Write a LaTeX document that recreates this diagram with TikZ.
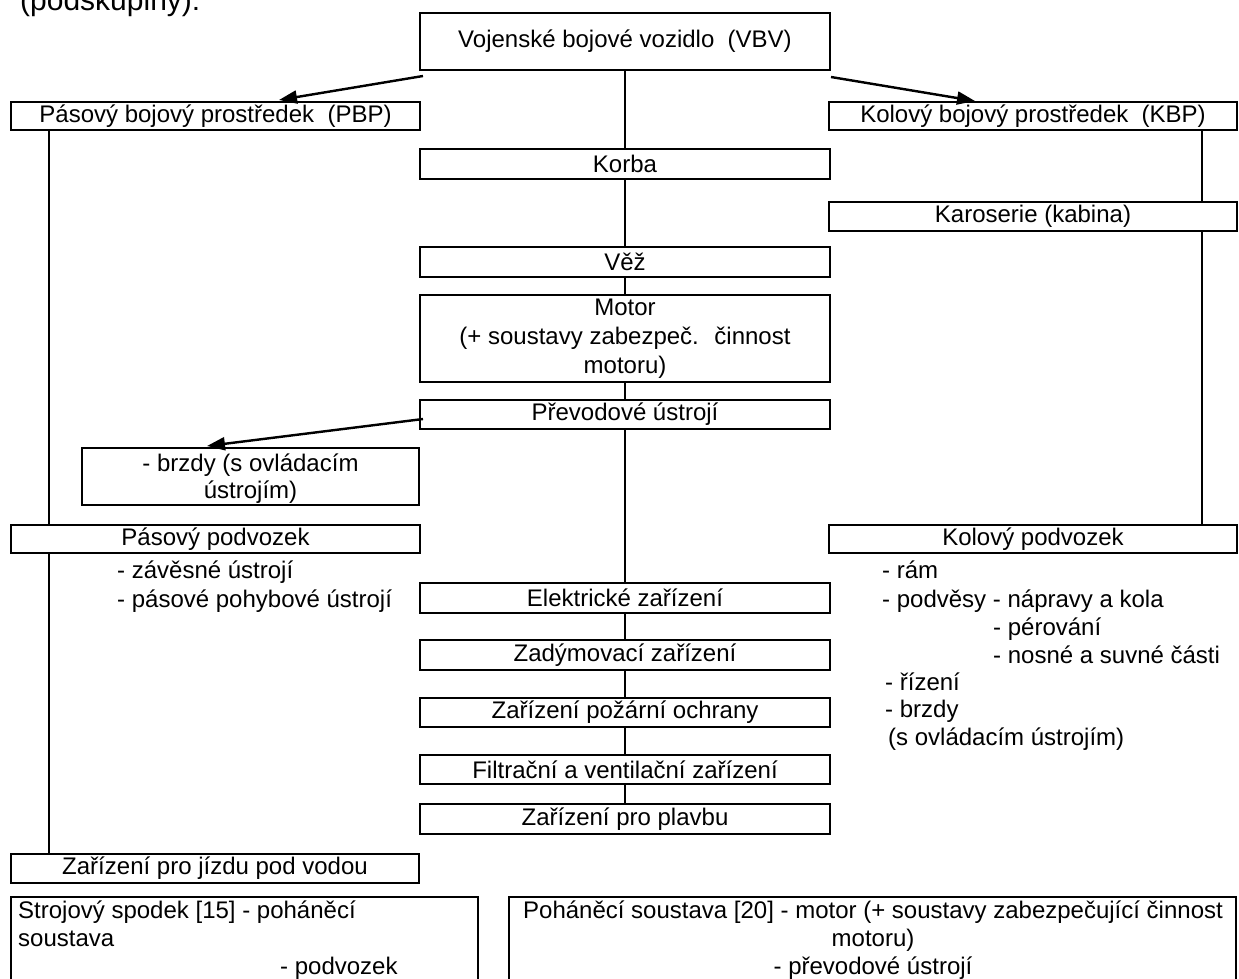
\documentclass[tikz,border=0pt]{standalone}
\usepackage{fontspec}
\setmainfont{Liberation Sans}
\usetikzlibrary{arrows.meta,calc}
\newcommand\diagfont{\fontsize{24}{29.5}\selectfont}
\begin{document}
\begin{tikzpicture}[x=1pt,y=-1pt,
  box/.style={draw, line width=1.8pt, fill=white, inner sep=0pt, align=center, font=\diagfont},
  txt/.style={inner sep=0pt, font=\diagfont},
  ln/.style={line width=1.8pt},
  arr/.style={line width=2.4pt, -{Triangle[length=18pt,width=13pt]}}]
\useasboundingbox (0,0) rectangle (1239,978);
\fill[white] (0,0) rectangle (1239,978);
% title (partly cut)
\node[txt, anchor=base west, font=\fontsize{30}{36}\selectfont] (title) at (20,10) {(podskupiny):};
% centre column
\node[box, minimum width=410pt, minimum height=57pt] (vbv) at (625,41.5) {Vojenské bojové vozidlo~ (VBV)};
\node[box, minimum width=410pt, minimum height=30pt] (korba) at (625,164) {Korba};
\node[box, minimum width=410pt, minimum height=30pt] (vez) at (625,262) {Věž};
\node[box, minimum width=410pt, minimum height=87pt] (motor) at (625,338.5) {};
\node[txt, anchor=base] (m1) at (625,315) {Motor};
\node[txt, anchor=base] (m2) at (625,344) {(+ soustavy zabezpeč.~ činnost};
\node[txt, anchor=base] (m3) at (625,373) {motoru)};
\node[box, minimum width=410pt, minimum height=29pt] (prevod) at (625,414.5) {Převodové ústrojí};
\node[box, minimum width=410pt, minimum height=30pt] (elek) at (625,598) {Elektrické zařízení};
\node[box, minimum width=410pt, minimum height=30pt] (zady) at (625,655) {Zadýmovací zařízení};
\node[box, minimum width=410pt, minimum height=29pt] (pozar) at (625,712.5) {Zařízení požární ochrany};
\node[box, minimum width=410pt, minimum height=29pt] (filtr) at (625,769.5) {Filtrační a ventilační zařízení};
\node[box, minimum width=410pt, minimum height=30pt] (plavba) at (625,819) {Zařízení pro plavbu};
% left column
\node[box, minimum width=409pt, minimum height=28pt] (pbp) at (215.5,116) {Pásový bojový prostředek~ (PBP)};
\node[box, minimum width=337pt, minimum height=57pt] (brzdy) at (250.5,476.5) {};
\node[txt, anchor=base] (b1) at (250.5,471) {- brzdy (s ovládacím};
\node[txt, anchor=base] (b2) at (250.5,498) {ústrojím)};
\node[box, minimum width=409pt, minimum height=28pt] (pp) at (215.5,539) {Pásový podvozek};
\node[txt, anchor=base west] (pp1) at (117,578) {- závěsné ústrojí};
\node[txt, anchor=base west] (pp2) at (117,607) {- pásové pohybové ústrojí};
\node[box, minimum width=408pt, minimum height=29pt] (jizda) at (215,868.5) {Zařízení pro jízdu pod vodou};
% right column
\node[box, minimum width=408pt, minimum height=28pt] (kbp) at (1033,116) {Kolový bojový prostředek~ (KBP)};
\node[box, minimum width=408pt, minimum height=29pt] (karos) at (1033,216.5) {Karoserie (kabina)};
\node[box, minimum width=408pt, minimum height=28pt] (kp) at (1033,539) {Kolový podvozek};
\node[txt, anchor=base west] (kp1) at (882,578) {- rám};
\node[txt, anchor=base west] (kp2) at (882,607) {- podvěsy - nápravy a kola};
\node[txt, anchor=base west] (kp3) at (993,635) {- pérování};
\node[txt, anchor=base west] (kp4) at (993,663) {- nosné a suvné části};
\node[txt, anchor=base west] (kp5) at (885,690) {- řízení};
\node[txt, anchor=base west] (kp6) at (885,717) {- brzdy};
\node[txt, anchor=base west] (kp7) at (888,745) {(s ovládacím ústrojím)};
% bottom boxes
\node[box, minimum width=467pt, minimum height=103pt] (stroj) at (244.5,948.5) {};
\node[txt, anchor=base west] (s1) at (18,918) {Strojový spodek [15] - poháněcí};
\node[txt, anchor=base west] (s2) at (18,946) {soustava};
\node[txt, anchor=base west] (s3) at (280,974) {- podvozek};
\node[box, minimum width=727pt, minimum height=103pt] (pohan) at (872.5,948.5) {};
\node[txt, anchor=base] (p1) at (873,918) {Poháněcí soustava [20] - motor (+ soustavy zabezpečující činnost};
\node[txt, anchor=base] (p2) at (873,946) {motoru)};
\node[txt, anchor=base] (p3) at (873,974) {- převodové ústrojí};
% centre connectors
\draw[ln] (vbv.south) -- (korba.north);
\draw[ln] (korba.south) -- (vez.north);
\draw[ln] (vez.south) -- (motor.north);
\draw[ln] (motor.south) -- (prevod.north);
\draw[ln] (prevod.south) -- (elek.north);
\draw[ln] (elek.south) -- (zady.north);
\draw[ln] (zady.south) -- (pozar.north);
\draw[ln] (pozar.south) -- (filtr.north);
\draw[ln] (filtr.south) -- (plavba.north);
% left connectors
\coordinate (lx) at (49,0);
\draw[ln] (pbp.south -| lx) -- (pp.north -| lx);
\draw[ln] (pp.south -| lx) -- (jizda.north -| lx);
% right connectors
\coordinate (rx) at (1202,0);
\draw[ln] (kbp.south -| rx) -- (karos.north -| rx);
\draw[ln] (karos.south -| rx) -- (kp.north -| rx);
% arrows
\coordinate (a1s) at (423,76);
\coordinate (a1e) at (279,100);
\draw[arr] (a1s) -- (a1e);
\coordinate (a2s) at (831,77);
\coordinate (a2e) at (975,101);
\draw[arr] (a2s) -- (a2e);
\coordinate (a3s) at (423,419);
\coordinate (a3e) at (207,446);
\draw[arr] (a3s) -- (a3e);
\end{tikzpicture}
\end{document}
